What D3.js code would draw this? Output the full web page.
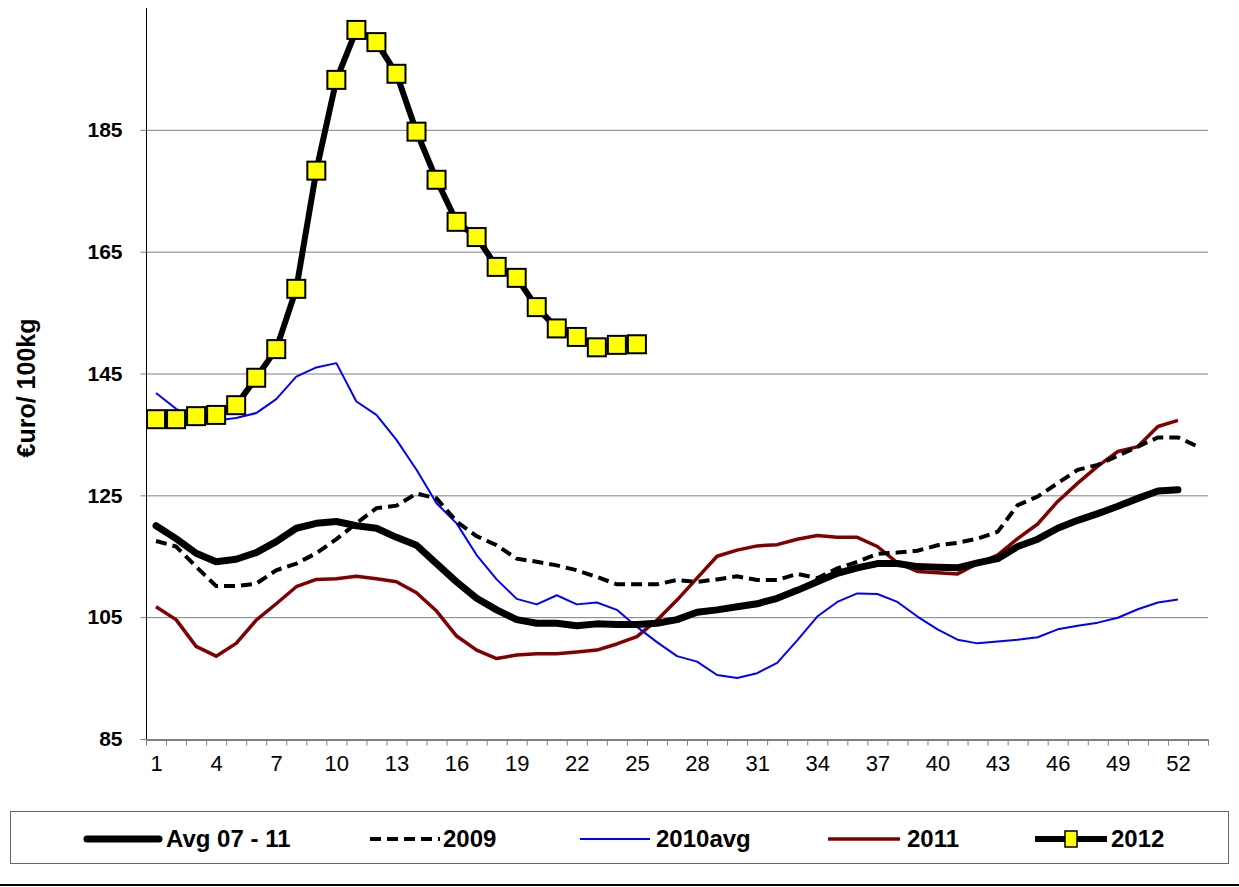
<!DOCTYPE html>
<html>
<head>
<meta charset="utf-8">
<script src="https://d3js.org/d3.v7.min.js"></script>
<style>
  body { margin: 0; background: #fff; }
  text { font-family: "Liberation Sans", Arial, sans-serif; }
</style>
</head>
<body>
<svg id="chart" width="1239" height="887"></svg>
<script>
// weekly prices, euro / 100kg
var weeks = d3.range(1, 54);
var yTicks = [85, 105, 125, 145, 165, 185];
var xLabels = [1, 4, 7, 10, 13, 16, 19, 22, 25, 28, 31, 34, 37, 40, 43, 46, 49, 52];

var avg0711 = [120.0, 117.9, 115.5, 114.1, 114.5, 115.6, 117.4, 119.6, 120.4, 120.7,
    120.0, 119.6, 118.1, 116.8, 113.8, 110.8, 108.1, 106.2, 104.6, 104.0,
    104.0, 103.6, 103.9, 103.8, 103.8, 104.0, 104.6, 105.8, 106.2, 106.7,
    107.2, 108.1, 109.4, 110.8, 112.2, 113.1, 113.8, 113.8, 113.3, 113.2,
    113.1, 113.9, 114.6, 116.6, 117.8, 119.6, 120.9, 122.0, 123.2, 124.5,
    125.7, 125.9];

var y2009 = [117.5, 116.6, 113.3, 110.1, 110.1, 110.5, 112.7, 113.8, 115.5, 117.8,
    120.4, 122.9, 123.3, 125.3, 124.5, 120.7, 118.3, 116.8, 114.6, 114.1,
    113.5, 112.7, 111.6, 110.4, 110.4, 110.4, 111.1, 110.8, 111.2, 111.7,
    111.1, 111.1, 112.1, 111.4, 113.0, 114.1, 115.4, 115.6, 115.9, 116.8,
    117.2, 117.9, 119.0, 123.4, 124.8, 127.0, 129.2, 130.0, 131.5, 133.0,
    134.5, 134.5, 133.0];

var y2010avg = [141.8, 139.2, 137.5, 137.3, 137.7, 138.5, 140.8, 144.5, 146.0, 146.7,
    140.4, 138.2, 134.1, 129.2, 123.7, 120.4, 115.2, 111.2, 108.0, 107.1,
    108.6, 107.1, 107.4, 106.2, 103.4, 100.9, 98.6, 97.7, 95.5, 95.0,
    95.8, 97.5, 101.2, 105.1, 107.5, 108.9, 108.8, 107.5, 105.1, 103.0,
    101.3, 100.7, 101.0, 101.3, 101.7, 103.0, 103.6, 104.1, 104.9, 106.3,
    107.4, 107.9];

var y2011 = [106.7, 104.6, 100.2, 98.6, 100.7, 104.5, 107.2, 110.0, 111.2, 111.3,
    111.7, 111.3, 110.8, 109.0, 106.0, 101.9, 99.6, 98.2, 98.8, 99.0,
    99.0, 99.3, 99.6, 100.6, 101.8, 104.5, 107.8, 111.4, 115.0, 116.0,
    116.7, 116.9, 117.8, 118.4, 118.1, 118.1, 116.6, 113.9, 112.5, 112.3,
    112.1, 113.8, 115.2, 117.9, 120.3, 124.0, 127.0, 129.8, 132.2, 133.0,
    136.3, 137.3];

var y2012 = [137.5, 137.5, 138.0, 138.2, 139.8, 144.3, 149.0, 158.9, 178.3, 193.2,
    201.4, 199.4, 194.2, 184.7, 176.8, 169.9, 167.4, 162.5, 160.7, 155.9,
    152.4, 151.0, 149.3, 149.7, 149.8];

var seriesNames = ["Avg 07 - 11", "2009", "2010avg", "2011", "2012"];

(function drawChart() {
    var svg = d3.select("#chart");

    var left = 146, right = 1208, top = 8, bottom = 739;

    var x = d3.scaleLinear().domain([0.5, 53.5]).range([left, right]);
    var y = d3.scaleLinear().domain([85, 205]).range([bottom, top]);

    // gridlines
    svg.append("g")
        .selectAll("line")
        .data(yTicks.slice(1))
        .enter().append("line")
        .attr("x1", left)
        .attr("x2", right)
        .attr("y1", function (d) { return y(d) + 0.5; })
        .attr("y2", function (d) { return y(d) + 0.5; })
        .attr("stroke", "#7f7f7f")
        .attr("stroke-width", 1);

    // y axis
    var yAxis = svg.append("g")
        .attr("transform", "translate(" + (left + 0.5) + ",0)")
        .call(d3.axisLeft(y).tickValues(yTicks).tickSize(6).tickSizeOuter(0).tickPadding(18));
    yAxis.select(".domain").attr("stroke", "#000").attr("d", "M0," + top + "V" + bottom);
    yAxis.selectAll(".tick line").attr("stroke", "#7f7f7f");
    yAxis.selectAll("text")
        .style("font-size", "21px")
        .style("font-weight", "bold")
        .attr("fill", "#000");

    // x axis: ticks at week boundaries
    var xAxis = svg.append("g")
        .attr("transform", "translate(0," + (bottom + 0.5) + ")")
        .call(d3.axisBottom(x).tickValues(d3.range(0.5, 54, 1)).tickFormat("").tickSize(6).tickSizeOuter(0));
    xAxis.select(".domain").attr("stroke", "#000");
    xAxis.selectAll(".tick line").attr("stroke", "#7f7f7f");

    var xLab = svg.append("g")
        .attr("transform", "translate(0," + (bottom + 0.5) + ")")
        .call(d3.axisBottom(x).tickValues(xLabels).tickSize(0).tickPadding(16));
    xLab.select(".domain").remove();
    xLab.selectAll("text")
        .style("font-size", "22px")
        .attr("fill", "#000");

    svg.append("text")
        .attr("transform", "translate(35,388) rotate(-90)")
        .attr("text-anchor", "middle")
        .style("font-size", "25px")
        .attr("font-weight", "bold")
        .text("€uro/ 100kg");

    var line = d3.line()
        .x(function (d, i) { return x(weeks[i]); })
        .y(function (d) { return y(d); });

    svg.append("path")
        .datum(y2011)
        .attr("d", line)
        .attr("fill", "none")
        .attr("stroke", "#800000")
        .attr("stroke-width", 3.5)
        .attr("stroke-linejoin", "round");

    svg.append("path")
        .datum(y2010avg)
        .attr("d", line)
        .attr("fill", "none")
        .attr("stroke", "#0000ff")
        .attr("stroke-width", 2)
        .attr("stroke-linejoin", "round");

    svg.append("path")
        .datum(y2009)
        .attr("d", line)
        .attr("fill", "none")
        .attr("stroke", "#000")
        .attr("stroke-width", 4)
        .attr("stroke-dasharray", "11,6");

    svg.append("path")
        .datum(avg0711)
        .attr("d", line)
        .attr("fill", "none")
        .attr("stroke", "#000")
        .attr("stroke-width", 7)
        .attr("stroke-linejoin", "round")
        .attr("stroke-linecap", "round");

    svg.append("path")
        .datum(y2012)
        .attr("d", line)
        .attr("fill", "none")
        .attr("stroke", "#000")
        .attr("stroke-width", 6)
        .attr("stroke-linejoin", "round");

    svg.append("g")
        .selectAll("rect")
        .data(y2012)
        .enter().append("rect")
        .attr("x", function (d, i) { return x(weeks[i]) - 9; })
        .attr("y", function (d) { return y(d) - 9; })
        .attr("width", 18)
        .attr("height", 18)
        .attr("fill", "#ffff00")
        .attr("stroke", "#000")
        .attr("stroke-width", 2);

    // legend
    svg.append("rect")
        .attr("x", 10.5)
        .attr("y", 811.5)
        .attr("width", 1218)
        .attr("height", 52)
        .attr("fill", "#fff")
        .attr("stroke", "#666")
        .attr("stroke-width", 1);

    svg.append("line")
        .attr("x1", 0)
        .attr("x2", 1239)
        .attr("y1", 885)
        .attr("y2", 885)
        .attr("stroke", "#000")
        .attr("stroke-width", 2);

    var legendX = [87, 370, 580, 828, 1035];
    var ly = 839;
    var lg = svg.append("g");

    lg.append("line").attr("x1", legendX[0]).attr("x2", legendX[0] + 72)
        .attr("y1", ly).attr("y2", ly)
        .attr("stroke", "#000").attr("stroke-width", 7).attr("stroke-linecap", "round");
    lg.append("line").attr("x1", legendX[1]).attr("x2", legendX[1] + 70)
        .attr("y1", ly).attr("y2", ly)
        .attr("stroke", "#000").attr("stroke-width", 4).attr("stroke-dasharray", "11,6");
    lg.append("line").attr("x1", legendX[2]).attr("x2", legendX[2] + 70)
        .attr("y1", ly).attr("y2", ly)
        .attr("stroke", "#0000ff").attr("stroke-width", 2);
    lg.append("line").attr("x1", legendX[3]).attr("x2", legendX[3] + 72)
        .attr("y1", ly).attr("y2", ly)
        .attr("stroke", "#800000").attr("stroke-width", 3.5);
    lg.append("line").attr("x1", legendX[4]).attr("x2", legendX[4] + 72)
        .attr("y1", ly).attr("y2", ly)
        .attr("stroke", "#000").attr("stroke-width", 6);
    lg.append("rect").attr("x", legendX[4] + 30).attr("y", ly - 8)
        .attr("width", 12).attr("height", 16)
        .attr("fill", "#ffff00").attr("stroke", "#000").attr("stroke-width", 1.5);

    var textX = [166, 443, 656, 907, 1111];
    lg.selectAll("text.leg")
        .data(seriesNames)
        .enter().append("text")
        .attr("class", "leg")
        .attr("x", function (d, i) { return textX[i]; })
        .attr("y", ly + 8)
        .style("font-size", "24px")
        .attr("font-weight", "bold")
        .text(function (d) { return d; });
}());
</script>
</body>
</html>
